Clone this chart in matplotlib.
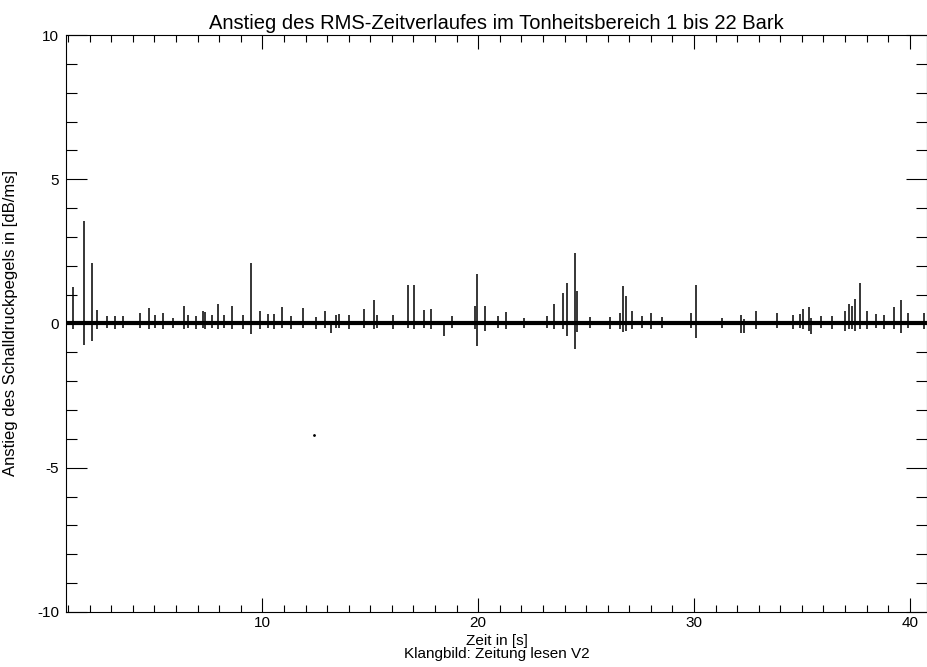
import matplotlib.pyplot as plt
from matplotlib.ticker import MultipleLocator

plt.rcParams['font.family'] = ['Liberation Sans', 'DejaVu Sans']
plt.rcParams['axes.unicode_minus'] = False

# spike positions [s], peak heights and dips [dB/ms]
spike_t = [1.24, 1.75, 2.09, 2.36, 2.78, 3.16, 3.55, 4.32, 4.75, 5.01, 5.39, 5.86,
           6.35, 6.55, 6.94, 7.24, 7.35, 7.68, 7.94, 8.24, 8.60, 9.09, 9.48, 9.91,
           10.25, 10.52, 10.91, 11.32, 11.86, 12.48, 12.91, 13.17, 13.40, 13.56, 14.02,
           14.71, 15.17, 15.30, 16.06, 16.74, 17.02, 17.48, 17.82, 18.41, 18.79, 19.87,
           19.96, 20.30, 20.92, 21.30, 22.10, 23.18, 23.49, 23.92, 24.10, 24.49, 24.56,
           25.20, 26.10, 26.57, 26.72, 26.84, 27.15, 27.60, 28.00, 28.50, 29.88, 30.11,
           31.30, 32.16, 32.30, 32.85, 33.85, 34.57, 34.93, 35.03, 35.34, 35.42, 35.90,
           36.40, 36.99, 37.19, 37.30, 37.45, 37.70, 38.00, 38.45, 38.80, 39.27, 39.61,
           39.90, 40.66]
spike_hi = [1.25, 3.55, 2.10, 0.48, 0.25, 0.25, 0.25, 0.38, 0.55, 0.31, 0.38, 0.20,
            0.59, 0.28, 0.25, 0.43, 0.40, 0.28, 0.69, 0.31, 0.62, 0.31, 2.08, 0.45,
            0.34, 0.33, 0.58, 0.25, 0.54, 0.24, 0.43, 0.10, 0.31, 0.33, 0.28,
            0.51, 0.80, 0.31, 0.31, 1.32, 1.35, 0.48, 0.51, 0.10, 0.25, 0.62,
            1.73, 0.59, 0.25, 0.39, 0.18, 0.25, 0.69, 1.04, 1.39, 2.45, 1.12,
            0.22, 0.21, 0.38, 1.29, 0.95, 0.45, 0.25, 0.38, 0.24, 0.36, 1.35,
            0.20, 0.28, 0.15, 0.43, 0.38, 0.28, 0.34, 0.51, 0.58, 0.20, 0.25,
            0.25, 0.43, 0.69, 0.62, 0.85, 1.39, 0.43, 0.33, 0.31, 0.58, 0.83,
            0.38, 0.38]
spike_lo = [-0.20, -0.73, -0.62, -0.20, -0.15, -0.20, -0.15, -0.15, -0.20, -0.15, -0.20, -0.15,
            -0.20, -0.15, -0.20, -0.15, -0.20, -0.15, -0.20, -0.15, -0.20, -0.20, -0.38, -0.20,
            -0.15, -0.20, -0.15, -0.20, -0.15, -0.20, -0.15, -0.32, -0.15, -0.15, -0.20,
            -0.15, -0.20, -0.15, -0.20, -0.15, -0.20, -0.15, -0.20, -0.42, -0.15, -0.20,
            -0.79, -0.25, -0.15, -0.20, -0.15, -0.15, -0.20, -0.20, -0.42, -0.87, -0.30,
            -0.15, -0.20, -0.20, -0.30, -0.25, -0.20, -0.15, -0.20, -0.15, -0.15, -0.50,
            -0.15, -0.32, -0.33, -0.20, -0.15, -0.20, -0.15, -0.20, -0.25, -0.38, -0.15,
            -0.20, -0.25, -0.20, -0.20, -0.25, -0.20, -0.20, -0.15, -0.20, -0.20, -0.32,
            -0.15, -0.20]

stray_t, stray_v = [12.4], [-3.85]

x_min, x_max = 0.9, 40.8
y_min, y_max = -10, 10

fig = plt.figure(figsize=(9.28, 6.67), dpi=100)
ax = fig.add_axes([0.0711, 0.0825, 0.9279, 0.865])

ax.plot([x_min, x_max], [0, 0], color='black', lw=3.0)
ax.vlines(spike_t, spike_lo, spike_hi, color='black', lw=1.1)
ax.plot(stray_t, stray_v, 'k.', ms=2)

ax.set_xlim(x_min, x_max)
ax.set_ylim(y_min, y_max)
ax.xaxis.set_major_locator(MultipleLocator(10))
ax.xaxis.set_minor_locator(MultipleLocator(1))
ax.yaxis.set_major_locator(MultipleLocator(5))
ax.yaxis.set_minor_locator(MultipleLocator(1))
ax.tick_params(which='both', direction='in', top=True, right=True, labelsize=11, width=0.8)
ax.tick_params(axis='y', which='major', length=15, pad=5)
ax.tick_params(axis='y', which='minor', length=8)
ax.tick_params(axis='x', which='major', length=10, pad=3)
ax.tick_params(axis='x', which='minor', length=5)
for s in ax.spines.values():
    s.set_linewidth(0.8)

ax.set_title("Anstieg des RMS-Zeitverlaufes im Tonheitsbereich 1 bis 22 Bark", fontsize=14.5, pad=4)
ax.set_ylabel("Anstieg des Schalldruckpegels in [dB/ms]", fontsize=12, labelpad=14)
ax.set_xlabel("Zeit in [s]\nKlangbild: Zeitung lesen V2", fontsize=11, labelpad=3, linespacing=0.9)

fig.savefig('out.png', dpi=100)
